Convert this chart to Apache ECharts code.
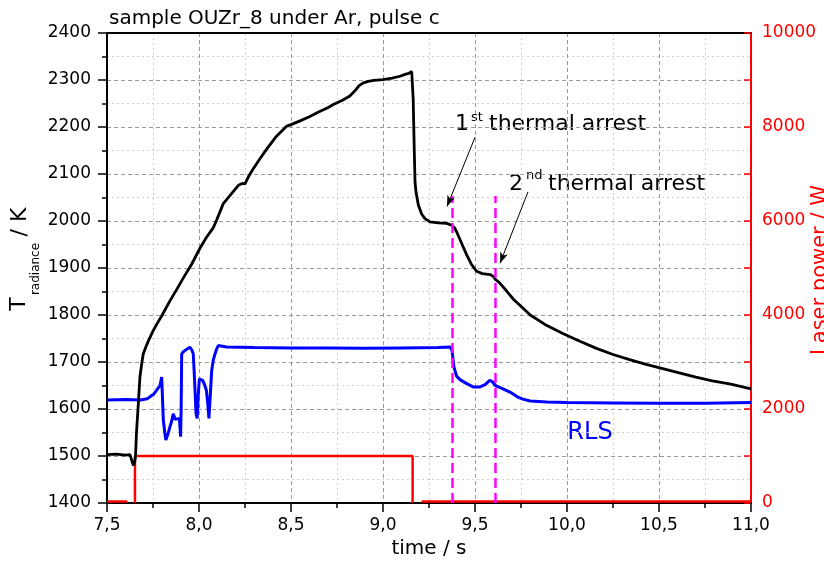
<!DOCTYPE html>
<html>
<head>
<meta charset="utf-8">
<script src="https://cdn.jsdelivr.net/npm/echarts@6/dist/echarts.min.js"></script>
<style>
  html, body { margin: 0; padding: 0; background: #fff; }
  #main { width: 824px; height: 564px; }
</style>
</head>
<body>
<div id="main"></div>
<script>
// Radiance temperature (time in s, temperature in K)
const radianceTemp = [
  [7.50,1503],[7.55,1504],[7.60,1502],[7.625,1503],[7.632,1494],[7.643,1480],[7.650,1486],
  [7.655,1500],[7.660,1548],[7.670,1610],[7.679,1668],[7.690,1700],[7.697,1717],[7.712,1733],
  [7.725,1745],[7.750,1766],[7.770,1780],[7.800,1800],[7.842,1830],[7.880,1855],[7.915,1879],
  [7.960,1908],[8.005,1942],[8.040,1965],[8.078,1986],[8.096,2002],[8.132,2037],[8.170,2055],
  [8.214,2076],[8.235,2080],[8.250,2079],[8.270,2095],[8.295,2111],[8.330,2132],[8.368,2153],
  [8.420,2180],[8.477,2202],[8.500,2205],[8.549,2213],[8.600,2222],[8.650,2232],[8.700,2241],
  [8.730,2248],[8.780,2257],[8.820,2266],[8.850,2278],[8.870,2288],[8.893,2294],[8.920,2297],
  [8.950,2299],[9.000,2301],[9.050,2304],[9.092,2308],[9.120,2312],[9.140,2314],[9.156,2318],
  [9.160,2318],[9.164,2260],[9.170,2150],[9.174,2083],[9.180,2060],[9.192,2034],[9.210,2015],
  [9.228,2005],[9.255,1998],[9.300,1996],[9.346,1995],[9.373,1991],[9.390,1985],[9.400,1977],
  [9.430,1950],[9.455,1928],[9.480,1908],[9.509,1893],[9.540,1888],[9.582,1886],[9.600,1882],
  [9.610,1876],[9.630,1870],[9.672,1851],[9.710,1833],[9.760,1815],[9.800,1800],[9.880,1780],
  [9.980,1760],[10.070,1744],[10.160,1729],[10.250,1716],[10.340,1705],[10.430,1695],
  [10.520,1686],[10.610,1677],[10.700,1668],[10.790,1660],[10.890,1653],[11.000,1643]
];

// Reflected light signal (RLS), plotted on the temperature scale
const rlsSignal = [
  [7.50,1619],[7.60,1620],[7.68,1619],[7.72,1622],[7.734,1626],[7.755,1632],[7.770,1640],
  [7.788,1650],[7.797,1668],[7.800,1640],[7.806,1577],[7.814,1550],[7.820,1534],[7.830,1545],
  [7.842,1562],[7.852,1575],[7.860,1590],[7.870,1578],[7.880,1582],[7.893,1580],[7.897,1560],
  [7.900,1541],[7.903,1600],[7.906,1717],[7.915,1722],[7.924,1724],[7.940,1729],[7.951,1731],
  [7.962,1725],[7.969,1717],[7.976,1660],[7.984,1590],[7.990,1580],[7.996,1630],[8.002,1664],
  [8.012,1665],[8.020,1661],[8.030,1652],[8.040,1640],[8.048,1610],[8.054,1580],[8.060,1620],
  [8.069,1682],[8.078,1705],[8.087,1717],[8.096,1728],[8.105,1735],[8.150,1732],[8.300,1731],
  [8.500,1730],[8.700,1730],[8.900,1729],[9.100,1730],[9.300,1731],[9.365,1732],[9.375,1725],
  [9.385,1690],[9.400,1670],[9.420,1662],[9.455,1654],[9.490,1647],[9.527,1647],[9.555,1652],
  [9.580,1661],[9.595,1658],[9.610,1650],[9.640,1645],[9.690,1636],[9.730,1626],[9.760,1621],
  [9.800,1617],[9.890,1615],[10.00,1614],[10.25,1613],[10.50,1612],[10.75,1612],[11.00,1614]
];

// Laser power (time in s, power in W); '-' marks a gap in the trace
const laserPower = [
  [7.50,30],[7.61,30],[7.63,'-'],[7.652,0],[7.652,1000],[9.161,1000],[9.161,0],[9.18,'-'],
  [9.21,30],[11.00,30]
];

// Times of the two thermal arrests and the height of their marker lines (K)
const arrestTimes = [9.379, 9.610];
const arrestMarkTop = 2053;

// Annotation arrows: [tailTime, tailTemp, headTime, headTemp]
const arrowPaths = [
  [9.500, 2178, 9.348, 2031],
  [9.788, 2062, 9.636, 1910]
];

const FONT = 'DejaVu Sans';
const BLACK = '#000000';
const RED = '#ff0000';
const BLUE = '#0000ff';
const MAGENTA = '#ff00ff';
const commaFmt = v => v.toFixed(1).replace('.', ',');
const plainFmt = v => String(v);

const majorGrid = { show: true, lineStyle: { color: '#9a9a9a', width: 1, type: [4, 3] } };
const minorGrid = { show: true, lineStyle: { color: '#d0d0d0', width: 1, type: [2, 3] } };

const chart = echarts.init(document.getElementById('main'), null, { renderer: 'canvas' });

const option = {
  animation: false,
  backgroundColor: '#ffffff',
  title: {
    text: 'sample OUZr_8 under Ar, pulse c',
    left: 104, top: 4,
    textStyle: { fontFamily: FONT, fontSize: 20, fontWeight: 'normal', color: BLACK }
  },
  grid: { left: 107, right: 73, top: 33, bottom: 57, containLabel: false },
  xAxis: [
    {
      type: 'value', min: 7.5, max: 11, interval: 0.5, position: 'bottom',
      axisLine: { show: true, onZero: false, lineStyle: { color: BLACK, width: 2 } },
      axisTick: { show: true, inside: false, length: 9, lineStyle: { color: BLACK, width: 1.5 } },
      minorTick: { show: true, splitNumber: 2, length: 5, lineStyle: { color: BLACK, width: 1.5 } },
      splitLine: majorGrid,
      minorSplitLine: minorGrid,
      axisLabel: { formatter: commaFmt, fontFamily: FONT, fontSize: 17, color: BLACK, margin: 14 },
      name: 'time / s', nameLocation: 'middle', nameGap: 36,
      nameTextStyle: { fontFamily: FONT, fontSize: 20, color: BLACK }
    },
    {
      type: 'value', min: 7.5, max: 11, position: 'top',
      axisLine: { show: true, onZero: false, lineStyle: { color: BLACK, width: 2 } },
      axisTick: { show: false }, axisLabel: { show: false }, splitLine: { show: false }
    }
  ],
  yAxis: [
    {
      type: 'value', min: 1400, max: 2400, interval: 100, position: 'left',
      axisLine: { show: true, onZero: false, lineStyle: { color: BLACK, width: 2 } },
      axisTick: { show: true, inside: false, length: 9, lineStyle: { color: BLACK, width: 1.5 } },
      minorTick: { show: true, splitNumber: 2, length: 5, lineStyle: { color: BLACK, width: 1.5 } },
      splitLine: majorGrid,
      minorSplitLine: minorGrid,
      axisLabel: { formatter: plainFmt, fontFamily: FONT, fontSize: 17, color: BLACK, margin: 16 }
    },
    {
      type: 'value', min: 0, max: 10000, interval: 2000, position: 'right',
      axisLine: { show: true, onZero: false, lineStyle: { color: RED, width: 2 } },
      axisTick: { show: true, inside: true, length: 7, lineStyle: { color: RED, width: 1.5 } },
      minorTick: { show: true, splitNumber: 2, length: 7, lineStyle: { color: RED, width: 1.5 } },
      splitLine: { show: false },
      axisLabel: { formatter: plainFmt, fontFamily: FONT, fontSize: 17, color: RED, margin: 11 }
    }
  ],
  series: [
    {
      name: 'Laser power', type: 'line', xAxisIndex: 0, yAxisIndex: 1, data: laserPower,
      showSymbol: false, connectNulls: false, z: 2,
      lineStyle: { color: RED, width: 2.5 }
    },
    {
      name: 'RLS', type: 'line', xAxisIndex: 0, yAxisIndex: 0, data: rlsSignal,
      showSymbol: false, z: 3,
      lineStyle: { color: BLUE, width: 3 }
    },
    {
      name: 'T radiance', type: 'line', xAxisIndex: 0, yAxisIndex: 0, data: radianceTemp,
      showSymbol: false, z: 4,
      lineStyle: { color: BLACK, width: 2.8 }
    },
    {
      name: 'arrests', type: 'line', xAxisIndex: 0, yAxisIndex: 0, data: [], z: 5,
      markLine: {
        silent: true, symbol: ['none', 'none'], label: { show: false },
        lineStyle: { color: MAGENTA, width: 2.5, type: [10, 5] },
        data: arrestTimes.map(t => [{ coord: [t, 1400] }, { coord: [t, arrestMarkTop] }])
      }
    },
    {
      name: 'arrows', type: 'line', xAxisIndex: 0, yAxisIndex: 0, data: [], z: 6,
      markLine: {
        silent: true, symbol: ['none', 'arrow'], symbolSize: [6, 11], label: { show: false },
        lineStyle: { color: BLACK, width: 1, type: 'solid' },
        data: arrowPaths.map(a => [{ coord: [a[0], a[1]] }, { coord: [a[2], a[3]] }])
      }
    }
  ],
  graphic: [
    // left axis title: T_radiance / K (read bottom to top)
    { type: 'text', x: 19, y: 304, rotation: Math.PI / 2,
      style: { text: 'T', fontFamily: FONT, fontSize: 22, fill: BLACK, align: 'center', verticalAlign: 'middle' } },
    { type: 'text', x: 36, y: 269, rotation: Math.PI / 2,
      style: { text: 'radiance', fontFamily: FONT, fontSize: 12, fill: BLACK, align: 'center', verticalAlign: 'middle' } },
    { type: 'text', x: 20, y: 222, rotation: Math.PI / 2,
      style: { text: '/ K', fontFamily: FONT, fontSize: 22, fill: BLACK, align: 'center', verticalAlign: 'middle' } },
    // right axis title
    { type: 'text', x: 821, y: 270, rotation: Math.PI / 2,
      style: { text: 'Laser power / W', fontFamily: FONT, fontSize: 21, fill: RED, align: 'center', verticalAlign: 'middle' } },
    // arrest annotations
    { type: 'text', x: 455, y: 124,
      style: { text: '1', fontFamily: FONT, fontSize: 22, fill: BLACK, align: 'left', verticalAlign: 'middle' } },
    { type: 'text', x: 471, y: 118,
      style: { text: 'st', fontFamily: FONT, fontSize: 13, fill: BLACK, align: 'left', verticalAlign: 'middle' } },
    { type: 'text', x: 489, y: 124,
      style: { text: 'thermal arrest', fontFamily: FONT, fontSize: 22, fill: BLACK, align: 'left', verticalAlign: 'middle' } },
    { type: 'text', x: 509, y: 184,
      style: { text: '2', fontFamily: FONT, fontSize: 22, fill: BLACK, align: 'left', verticalAlign: 'middle' } },
    { type: 'text', x: 526, y: 176,
      style: { text: 'nd', fontFamily: FONT, fontSize: 13, fill: BLACK, align: 'left', verticalAlign: 'middle' } },
    { type: 'text', x: 548, y: 184,
      style: { text: 'thermal arrest', fontFamily: FONT, fontSize: 22, fill: BLACK, align: 'left', verticalAlign: 'middle' } },
    // RLS trace label
    { type: 'text', x: 590, y: 433,
      style: { text: 'RLS', fontFamily: FONT, fontSize: 24, fill: BLUE, align: 'center', verticalAlign: 'middle' } }
  ]
};

chart.setOption(option);
</script>
</body>
</html>
